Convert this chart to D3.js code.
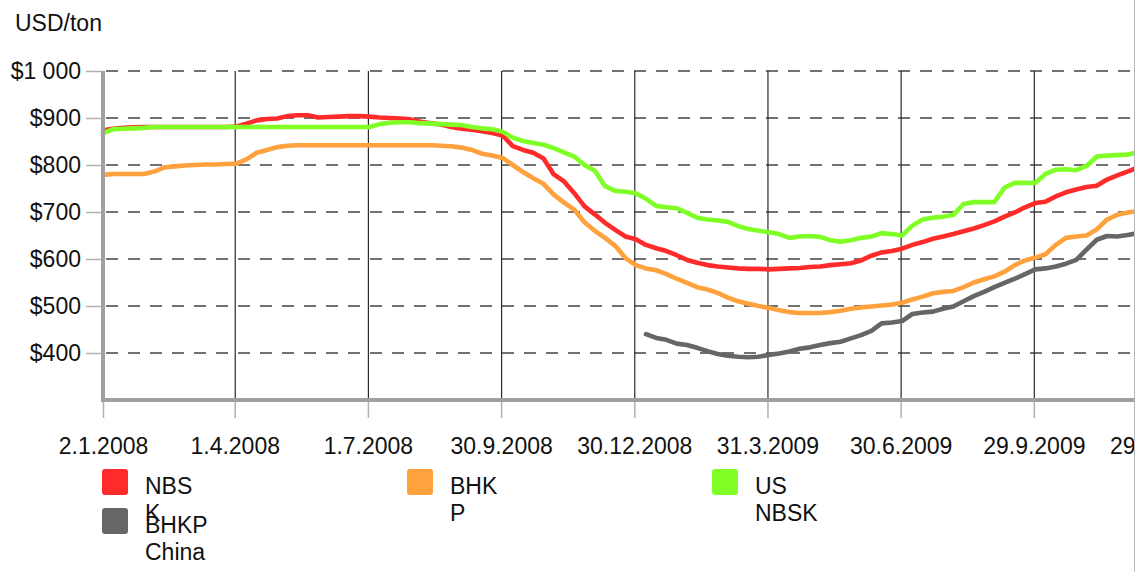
<!DOCTYPE html>
<html>
<head>
<meta charset="utf-8">
<script src="https://cdn.jsdelivr.net/npm/d3@7"></script>
<style>
  html, body { margin: 0; padding: 0; background: #fff; }
  svg { display: block; font-family: "Liberation Sans", Arial, sans-serif; }
</style>
</head>
<body>
<svg id="chart" width="1139" height="572"></svg>
<script>
// Weekly pulp prices, USD per ton, first week starting 2 Jan 2008
const weekStart = "2008-01-02";

const nbsk = [
  874, 877, 879, 880, 881, 881, 881, 881, 881, 881, 881, 881, 881, 882, 888, 895, 898, 899, 904, 906,
  906, 901, 902, 903, 904, 904, 903, 901, 900, 899, 897, 892, 889, 886, 881, 877, 875, 872, 868, 863,
  840, 832, 826, 814, 780, 765, 740, 712, 695, 677, 662, 648, 642, 630, 623, 617, 608, 598, 592, 587,
  584, 582, 580, 579, 579, 578, 579, 580, 581, 583, 584, 587, 589, 591, 597, 607, 614, 617, 622, 630,
  636, 643, 648, 653, 659, 665, 672, 680, 690, 699, 710, 719, 722, 733, 742, 748, 753, 756, 769, 778,
  786, 795
];

const bhkp = [
  779, 781, 781, 781, 781, 786, 795, 797, 799, 800, 801, 801, 802, 803, 812, 826, 832, 838, 841, 842,
  842, 842, 842, 842, 842, 842, 842, 842, 842, 842, 842, 842, 842, 841, 840, 837, 832, 824, 820, 815,
  800, 785, 772, 760, 737, 720, 705, 678, 660, 645, 628, 602, 587, 580, 576, 568, 558, 549, 540, 535,
  528, 518, 510, 505, 500, 496, 491, 487, 485, 485, 485, 487, 490, 494, 497, 499, 501, 503, 507, 514,
  520, 527, 530, 532, 540, 550, 557, 563, 573, 587, 597, 603, 610, 630, 645, 648, 650, 663, 684, 694,
  699, 702
];

const usNbsk = [
  868, 876, 877, 878, 879, 881, 881, 881, 881, 881, 881, 881, 881, 881, 881, 881, 881, 881, 881, 881,
  881, 881, 881, 881, 881, 881, 881, 887, 890, 891, 891, 889, 888, 887, 886, 885, 881, 878, 876, 871,
  858, 851, 847, 843, 836, 827, 818, 800, 788, 755, 745, 743, 740, 728, 713, 710, 708, 698, 688, 684,
  682, 679, 670, 664, 660, 657, 653, 645, 648, 649, 647, 640, 637, 640, 645, 648, 655, 653, 650, 671,
  684, 688, 690, 694, 717, 721, 721, 721, 752, 762, 762, 762, 781, 790, 791, 789, 798, 818, 820, 821,
  822, 827
];

// China series is only quoted from January 2009
const chinaStart = "2009-01-07";
const bhkpChina = [
  440, 432, 428, 420, 417, 411, 404, 398, 394, 392, 391, 392, 396, 399, 403, 409, 412, 417, 421, 424,
  431, 438, 447, 463, 465, 468, 483, 486, 488, 494, 499, 510, 521, 530, 540, 549, 558, 568, 578, 580,
  584, 590, 598, 620, 641, 649, 648, 651, 655
];

const xTickDates = ["2008-01-02", "2008-04-01", "2008-07-01", "2008-09-30", "2008-12-30",
                    "2009-03-31", "2009-06-30", "2009-09-29", "2009-12-29"];
const yTicks = [400, 500, 600, 700, 800, 900, 1000];
const yTickLabels = ["$400", "$500", "$600", "$700", "$800", "$900", "$1 000"];
const yUnit = "USD/ton";

const seriesLabels = [["NBS", "K"], ["BHK", "P"], ["US", "NBSK"], ["BHKP", "China"]];
const seriesColors = ["#ff2b2b", "#ffa13c", "#80ff26", "#666666"];

// ---- layout ----
const W = 1139, H = 572;
const plotLeft = 103, plotTop = 71, plotBottom = 400, viewRight = 1134;
const parse = d3.utcParse("%Y-%m-%d");
const fmt = d3.utcFormat("%-d.%-m.%Y");

const x = d3.scaleUtc()
  .domain([parse(xTickDates[0]), parse(xTickDates[xTickDates.length - 1])])
  .range([plotLeft, 1167]);
const y = d3.scaleLinear().domain([300, 1000]).range([plotBottom, plotTop]);

const svg = d3.select("#chart");
svg.append("defs").append("clipPath").attr("id", "view")
  .append("rect").attr("x", 0).attr("y", 0).attr("width", viewRight).attr("height", H);

const g = svg.append("g").attr("clip-path", "url(#view)");

function weekly(startStr, values) {
  const s = parse(startStr);
  return values.map((v, i) => ({ date: d3.utcDay.offset(s, 7 * i), value: v }));
}

// horizontal dashed gridlines with short grey ticks at the axis
const yAxis = d3.axisLeft(y)
  .tickValues(yTicks)
  .tickFormat((d, i) => yTickLabels[i])
  .tickSize(17)
  .tickPadding(5);
const yAxisG = g.append("g").attr("transform", `translate(${plotLeft},0)`).call(yAxis);
yAxisG.select(".domain").remove();
yAxisG.selectAll(".tick line").attr("stroke", "#b0b0b0").attr("stroke-width", 1.5);
yAxisG.selectAll(".tick text")
  .attr("font-size", 23).attr("fill", "#111")
  .attr("font-family", "'Liberation Sans', Arial, sans-serif");

g.append("g").selectAll("line").data(yTicks).join("line")
  .attr("x1", plotLeft).attr("x2", viewRight)
  .attr("y1", d => y(d)).attr("y2", d => y(d))
  .attr("stroke", "#444").attr("stroke-width", 1.6)
  .attr("stroke-dasharray", "12,10").attr("stroke-dashoffset", -3);

// vertical gridlines
g.append("g").selectAll("line").data(xTickDates.slice(1)).join("line")
  .attr("x1", d => x(parse(d)) + 0.5).attr("x2", d => x(parse(d)) + 0.5)
  .attr("y1", plotTop).attr("y2", plotBottom)
  .attr("stroke", "#2a2a2a").attr("stroke-width", 1.2);

// x axis ticks and labels
const xAxis = d3.axisBottom(x)
  .tickValues(xTickDates.map(parse))
  .tickFormat(fmt)
  .tickSize(16)
  .tickPadding(20);
const xAxisG = g.append("g").attr("transform", `translate(0,${plotBottom + 2})`).call(xAxis);
xAxisG.select(".domain").remove();
xAxisG.selectAll(".tick line").attr("stroke", "#b0b0b0").attr("stroke-width", 1.5);
xAxisG.selectAll(".tick text")
  .attr("font-size", 23).attr("fill", "#111")
  .attr("font-family", "'Liberation Sans', Arial, sans-serif");

// price lines
const line = d3.line().x(d => x(d.date)).y(d => y(d.value));
const drawn = [
  { data: weekly(weekStart, nbsk), color: seriesColors[0] },
  { data: weekly(weekStart, bhkp), color: seriesColors[1] },
  { data: weekly(chinaStart, bhkpChina), color: seriesColors[3] },
  { data: weekly(weekStart, usNbsk), color: seriesColors[2] }
];
g.append("g").selectAll("path").data(drawn).join("path")
  .attr("d", d => line(d.data))
  .attr("fill", "none")
  .attr("stroke", d => d.color)
  .attr("stroke-width", 4.6)
  .attr("stroke-linejoin", "round")
  .attr("stroke-linecap", "round");

// axis lines
g.append("line").attr("x1", plotLeft).attr("x2", plotLeft).attr("y1", plotTop).attr("y2", plotBottom + 2)
  .attr("stroke", "#a0a0a0").attr("stroke-width", 4);
g.append("line").attr("x1", plotLeft - 2).attr("x2", viewRight).attr("y1", plotBottom).attr("y2", plotBottom)
  .attr("stroke", "#a0a0a0").attr("stroke-width", 4);

// unit label
svg.append("text").attr("x", 15).attr("y", 31)
  .attr("font-size", 23).attr("fill", "#111").text(yUnit);

// legend
const legend = svg.append("g").selectAll("g").data(seriesLabels).join("g")
  .attr("transform", (d, i) => `translate(${102 + (i % 3) * 305},${469 + Math.floor(i / 3) * 39})`);
legend.append("rect")
  .attr("width", 26).attr("height", 26).attr("rx", 3)
  .attr("fill", (d, i) => seriesColors[i]);
legend.append("text")
  .attr("x", 43).attr("y", 25)
  .attr("font-size", 23).attr("fill", "#111")
  .selectAll("tspan").data(d => d).join("tspan")
  .attr("x", 43).attr("dy", (d, i) => i === 0 ? 0 : 27)
  .text(d => d);

// right border of the view
svg.append("line").attr("x1", viewRight + 0.5).attr("x2", viewRight + 0.5)
  .attr("y1", 0).attr("y2", H).attr("stroke", "#b8b8b8").attr("stroke-width", 1);
</script>
</body>
</html>
